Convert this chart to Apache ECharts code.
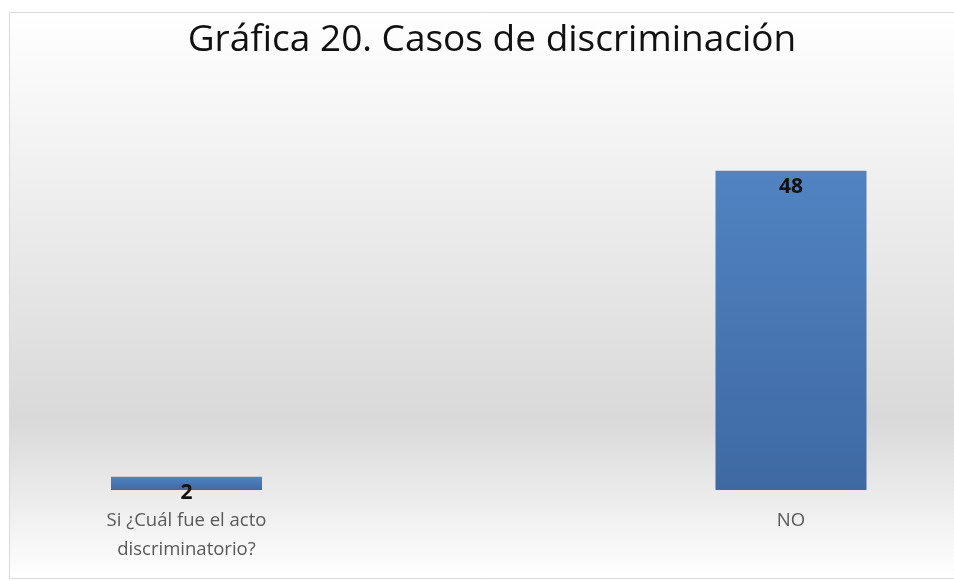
<!DOCTYPE html>
<html>
<head>
<meta charset="utf-8">
<script src="https://cdn.jsdelivr.net/npm/echarts@6/dist/echarts.min.js"></script>
<style>
  html, body { margin: 0; padding: 0; background: #fff; }
  #chart { width: 954px; height: 581px; }
</style>
</head>
<body>
<div id="chart"></div>
<script>
// datos de la gráfica
const categorias = ['Si ¿Cuál fue el acto\ndiscriminatorio?', 'NO'];
const casos = [2, 48];
const titulo = 'Gráfica 20. Casos de discriminación';

const chart = echarts.init(document.getElementById('chart'));

const barColor = new echarts.graphic.LinearGradient(0, 0, 0, 1, [
    { offset: 0, color: '#5183c2' },
    { offset: 1, color: '#3e69a3' }
]);

const option = {
    animation: false,
    graphic: [{
        type: 'rect',
        z: -10,
        shape: { x: 9.5, y: 12.5, width: 950, height: 566 },
        style: {
            fill: new echarts.graphic.LinearGradient(0, 0, 0, 1, [
                { offset: 0, color: '#ffffff' },
                { offset: 0.72, color: '#d9d9d9' },
                { offset: 1, color: '#ffffff' }
            ]),
            stroke: '#d9d9d9',
            lineWidth: 1
        }
    }],
    title: {
        text: titulo,
        left: 487,
        top: 17,
        textAlign: 'center',
        textStyle: {
            fontFamily: 'Open Sans',
            fontSize: 37,
            fontWeight: 'normal',
            color: '#111'
        }
    },
    grid: {
        left: 186.5,
        right: 954 - 791,
        top: 91,
        bottom: 91,
        containLabel: false
    },
    xAxis: {
        type: 'category',
        data: categorias,
        boundaryGap: false,
        axisLine: { show: false },
        axisTick: { show: false },
        axisLabel: {
            margin: 16,
            fontFamily: 'Open Sans',
            fontSize: 18.5,
            lineHeight: 29,
            color: '#595959'
        }
    },
    yAxis: {
        type: 'value',
        min: 0,
        max: 60,
        show: false,
        splitLine: { show: false }
    },
    series: [{
        type: 'bar',
        data: casos,
        barWidth: 151,
        itemStyle: { color: barColor },
        label: {
            show: true,
            position: 'insideTop',
            distance: 6,
            fontFamily: 'Open Sans',
            fontSize: 21,
            fontWeight: 'bold',
            color: '#111'
        }
    }]
};

chart.setOption(option);
</script>
</body>
</html>
